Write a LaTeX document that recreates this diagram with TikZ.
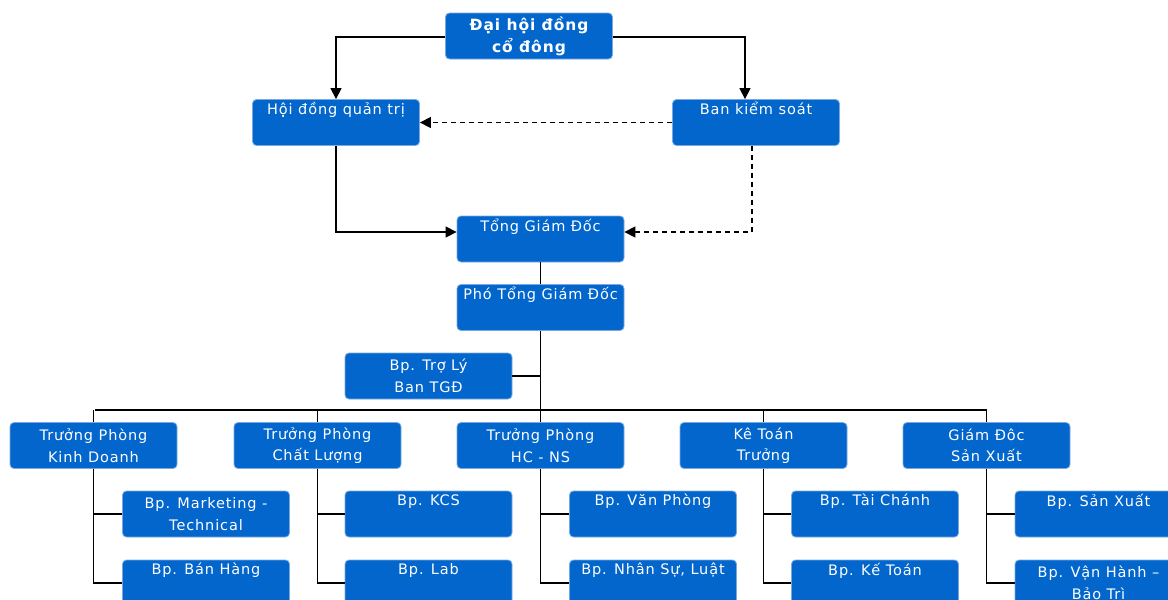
\documentclass[tikz,border=0pt]{standalone}
\usepackage{fontspec}
\setmainfont{DejaVu Sans}[LetterSpace=6]
\usetikzlibrary{arrows.meta,calc}
\definecolor{boxblue}{RGB}{2,102,204}
\definecolor{boxedge}{RGB}{120,170,225}
\tikzset{
  box/.style={rectangle, rounded corners=4pt, fill=boxblue, draw=boxedge, line width=0.8pt,
    text=white, minimum width=167pt, minimum height=46pt, inner sep=0pt, align=center,
    font=\fontsize{14.5}{21.5}\selectfont},
  conn/.style={draw=black, line width=1.3pt},
  arr/.style={conn, -{Triangle[length=11pt,width=11pt]}},
  darr/.style={arr, dash pattern=on 5pt off 4pt},
}
\begin{document}
\begin{tikzpicture}[x=1pt,y=-1pt]
\useasboundingbox (0,0) rectangle (1168,600);
% top
\node[box, font=\bfseries\fontsize{15.5}{22}\selectfont] (dh) at (529,36) {Đại hội đồng\\cổ đông};
\node[box] (hd) at (336,122.5) {Hội đồng quản trị\\\strut};
\node[box] (bks) at (756,122.5) {Ban kiểm soát\\\strut};
\node[box] (tgd) at (540.5,239) {Tổng Giám Đốc\\\strut};
\node[box] (ptgd) at (540.5,307.5) {Phó Tổng Giám Đốc\\\strut};
\node[box] (trl) at (428.5,376) {Bp. Trợ Lý\\Ban TGĐ};
% row 3
\node[box] (kd) at (93.5,445.5) {Trưởng Phòng\\Kinh Doanh};
\node[box] (cl) at (317.5,445.5) {Trưởng Phòng\\Chất Lượng};
\node[box] (hc) at (540.5,445.5) {Trưởng Phòng\\HC - NS};
\node[box] (kt) at (763.5,445.5) {Kê Toán\\Trưởng};
\node[box] (sx) at (986.5,445.5) {Giám Đôc\\Sản Xuất};
% sub row 1
\node[box] (mk) at (206,514) {Bp. Marketing -\\Technical};
\node[box] (kcs) at (428.5,514) {Bp. KCS\\\strut};
\node[box] (vp) at (653,514) {Bp. Văn Phòng\\\strut};
\node[box] (tc) at (875,514) {Bp. Tài Chánh\\\strut};
\node[box] (bsx) at (1098.5,514) {Bp. Sản Xuất\\\strut};
% sub row 2
\node[box] (bh) at (206,583) {Bp. Bán Hàng\\\strut};
\node[box] (lab) at (428.5,583) {Bp. Lab\\\strut};
\node[box] (ns) at (653,583) {Bp. Nhân Sự, Luật\\\strut};
\node[box] (ktoan) at (875,583) {Bp. Kế Toán\\\strut};
\node[box] (vh) at (1098.5,583) {Bp. Vận Hành –\\Bảo Trì};
% coordinates
\coordinate (busL) at (95,410);
\coordinate (busR) at (987,410);
\coordinate (busM) at (540.5,410);
% top arrows
\draw[arr] (dh.west |- 0,37) -| (hd.north);
\draw[arr] (dh.east |- 0,37) -| ($(bks.north)+(-11,0)$);
\draw[darr] (bks.west) -- (hd.east);
\draw[arr] (hd.south) |- ($(tgd.west)+(0,-7)$);
\draw[darr] ($(bks.south)+(-4,0)$) |- ($(tgd.east)+(0,-7)$);
% hierarchy
\draw[conn] (tgd.south) -- (ptgd.north);
\draw[conn] (ptgd.south) -- (busM);
\draw[conn] (trl.east) -- (trl.east -| busM);
\draw[conn] (busL) -- (busR);
\foreach \n in {kd,cl,hc,kt,sx} { \draw[conn] (\n.north) -- (\n.north |- busL); }
\foreach \p/\a/\b in {kd/mk/bh, cl/kcs/lab, hc/vp/ns, kt/tc/ktoan, sx/bsx/vh} {
  \draw[conn] (\p.south) |- (\b.west);
  \draw[conn] (\a.west) -- (\a.west -| \p.south);
}
\end{tikzpicture}
\end{document}
